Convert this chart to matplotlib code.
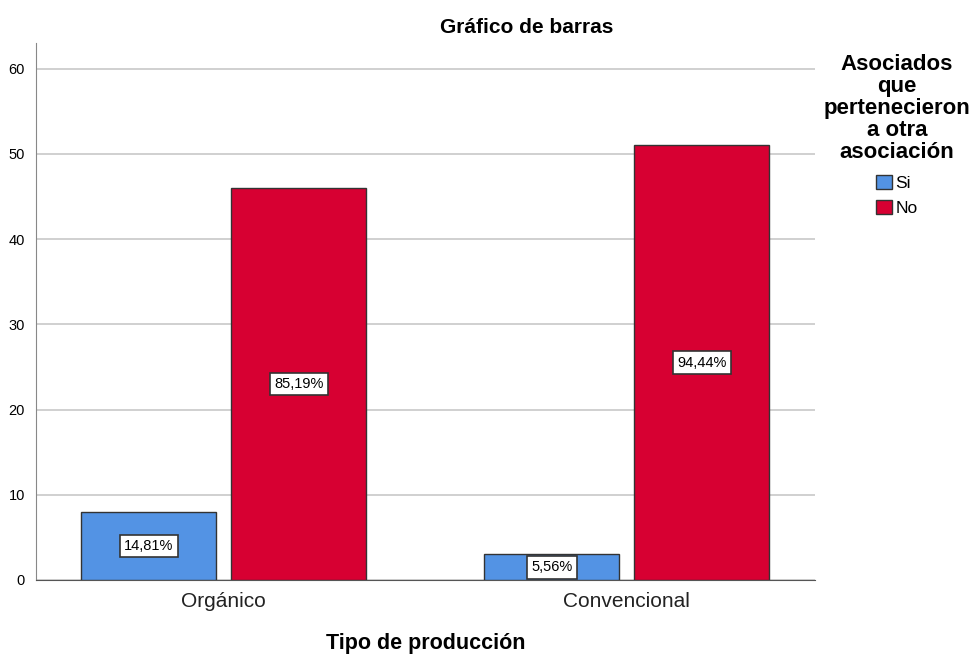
import numpy as np
import matplotlib.pyplot as plt
from matplotlib.patches import Patch

plt.rcParams['font.family'] = ['Liberation Sans', 'DejaVu Sans']

categorias = ['Orgánico', 'Convencional']
si = [8, 3]
no = [46, 51]
pct_si = ['14,81%', '5,56%']
pct_no = ['85,19%', '94,44%']

azul = '#5393e4'
rojo = '#d70032'

fig = plt.figure(figsize=(9.77, 6.57), dpi=100)
ax = fig.add_axes([0.0368, 0.1172, 0.797, 0.8174])

x = np.arange(len(categorias))
w = 0.335
off = 0.186
ax.bar(x - off, si, w, color=azul, edgecolor='#333333', linewidth=1, zorder=3)
ax.bar(x + off, no, w, color=rojo, edgecolor='#333333', linewidth=1, zorder=3)

caja = dict(boxstyle='square,pad=0.3', fc='white', ec='#333333', lw=1.2)
for i in range(len(categorias)):
    ax.text(x[i] - off, si[i] / 2, pct_si[i], ha='center', va='center',
            fontsize=10.5, bbox=caja, zorder=4)
    ax.text(x[i] + off, no[i] / 2, pct_no[i], ha='center', va='center',
            fontsize=10.5, bbox=caja, zorder=4)

ax.set_xlim(-0.4665, 1.4665)
ax.set_ylim(0, 63)
ax.set_yticks(range(0, 61, 10))
ax.set_xticks(x)
ax.set_xticklabels(categorias, fontsize=15, color='#222222')
ax.tick_params(axis='y', length=0, labelsize=10.5, pad=8)
ax.tick_params(axis='x', length=0, pad=9)
ax.yaxis.grid(True, color='#c8c8c8', linewidth=1.2, zorder=0)
ax.set_axisbelow(True)
for s in ['top', 'right']:
    ax.spines[s].set_visible(False)
ax.spines['left'].set_color('#888888')
ax.spines['bottom'].set_color('#555555')

fig.text(0.4355, 0.021, 'Tipo de producción', ha='center', va='center',
         fontsize=15.5, fontweight='bold')
fig.text(0.539, 0.958, 'Gráfico de barras', ha='center', va='center',
         fontsize=15, fontweight='bold')

handles = [Patch(facecolor=azul, edgecolor='#333333', label='Si'),
           Patch(facecolor=rojo, edgecolor='#333333', label='No')]
leg = fig.legend(handles=handles, loc='upper center', bbox_to_anchor=(0.918, 0.941),
                 title='Asociados\nque\npertenecieron\na otra\nasociación',
                 frameon=False, fontsize=12.5, handlelength=0.9, handleheight=0.9,
                 handletextpad=0.2, labelspacing=0.5)
t = leg.get_title()
t.set_fontsize(16)
t.set_fontweight('bold')
t.set_multialignment('center')
t.set_linespacing(1.05)
leg._legend_box.align = 'center'
leg._legend_box.sep = 9

fig.savefig('out.png', dpi=100)
